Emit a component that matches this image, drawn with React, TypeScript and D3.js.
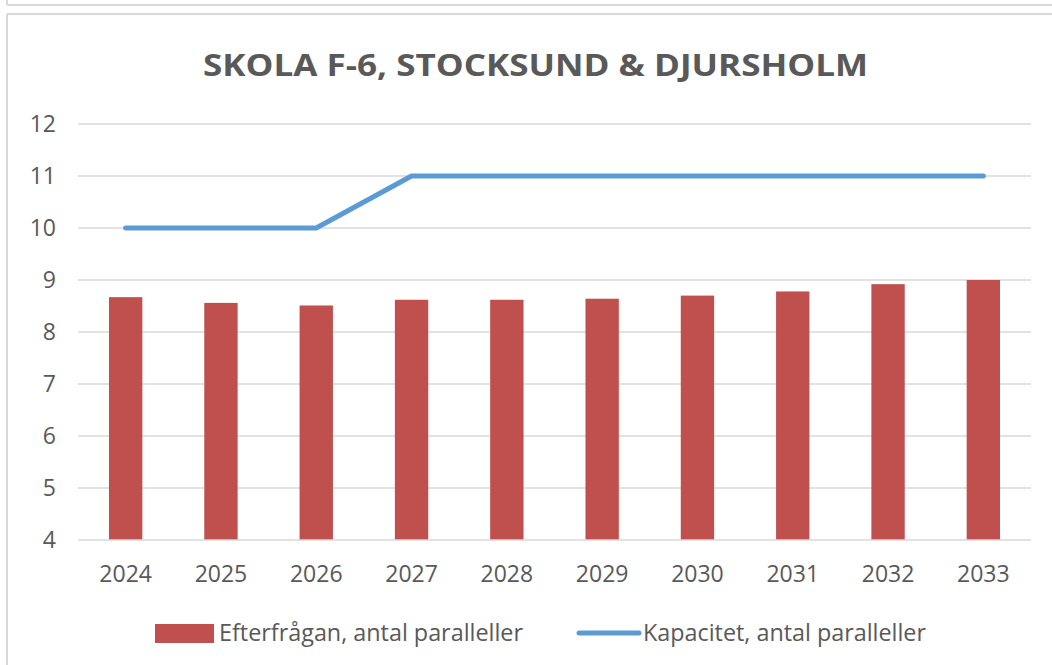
import React from "react";
import * as d3 from "d3";

const years = ["2024", "2025", "2026", "2027", "2028", "2029", "2030", "2031", "2032", "2033"];
const demand = [8.67, 8.56, 8.51, 8.62, 8.62, 8.64, 8.7, 8.78, 8.92, 9.0];
const capacity = [10, 10, 10, 11, 11, 11, 11, 11, 11, 11];
const yTicks = [4, 5, 6, 7, 8, 9, 10, 11, 12];
const title = "SKOLA F-6, STOCKSUND & DJURSHOLM";
const demandLabel = "Efterfrågan, antal paralleller";
const capacityLabel = "Kapacitet, antal paralleller";

const W = 1052;
const H = 665;
const left = 78;
const right = 1031;
const top = 124;
const bottom = 540;
const font = "'Open Sans', sans-serif";
const textColor = "#595959";
const gridColor = "#d9d9d9";
const barColor = "#c0504d";
const lineColor = "#5b9bd5";

export default function App() {
  const x = d3.scaleBand<string>().domain(years).range([left, right]).padding(0);
  const y = d3.scaleLinear().domain([4, 12]).range([bottom, top]);
  const bw = x.bandwidth() * 0.35;
  const cx = (d: string) => (x(d) as number) + x.bandwidth() / 2;
  const line = d3
    .line<number>()
    .x((_, i) => cx(years[i]))
    .y((d) => y(d));

  return (
    <div style={{ position: "absolute", left: 0, top: 0 }}>
      <svg width={W} height={H} style={{ display: "block", background: "#fff" }}>
        {/* previous panel border */}
        <line x1={7} x2={W} y1={5} y2={5} stroke={gridColor} strokeWidth={2} />
        <line x1={7} x2={7} y1={0} y2={5} stroke={gridColor} strokeWidth={2} />
        {/* chart frame */}
        <line x1={7} x2={W} y1={14} y2={14} stroke={gridColor} strokeWidth={2} />
        <line x1={7} x2={7} y1={14} y2={H} stroke={gridColor} strokeWidth={2} />

        <text
          x={203}
          y={76}
          fontFamily={font}
          fontWeight={700}
          fontSize={31}
          fill={textColor}
          textLength={665}
          lengthAdjust="spacingAndGlyphs"
        >
          {title}
        </text>

        {yTicks.map((t) => (
          <g key={t}>
            {t !== 4 && (
              <line x1={left} x2={right} y1={y(t)} y2={y(t)} stroke={gridColor} strokeWidth={1.5} />
            )}
            <text
              x={56}
              y={y(t)}
              dy="0.35em"
              textAnchor="end"
              fontFamily={font}
              fontSize={23}
              fill={textColor}
            >
              {t}
            </text>
          </g>
        ))}

        {years.map((yr, i) => (
          <rect
            key={yr}
            x={cx(yr) - bw / 2}
            y={y(demand[i])}
            width={bw}
            height={y(4) - y(demand[i])}
            fill={barColor}
          />
        ))}
        <line x1={left} x2={right} y1={bottom} y2={bottom} stroke={gridColor} strokeWidth={1.5} />

        <path
          d={line(capacity) || ""}
          fill="none"
          stroke={lineColor}
          strokeWidth={5}
          strokeLinecap="round"
          strokeLinejoin="round"
        />

        {years.map((yr) => (
          <text
            key={yr}
            x={cx(yr)}
            y={582}
            textAnchor="middle"
            fontFamily={font}
            fontSize={23}
            fill={textColor}
          >
            {yr}
          </text>
        ))}

        <rect x={155} y={624} width={59} height={19} fill={barColor} />
        <text
          x={219}
          y={641}
          fontFamily={font}
          fontSize={23}
          fill={textColor}
          textLength={304}
          lengthAdjust="spacingAndGlyphs"
        >
          {demandLabel}
        </text>
        <line x1={579} x2={639} y1={633} y2={633} stroke={lineColor} strokeWidth={5} strokeLinecap="round" />
        <text
          x={643}
          y={641}
          fontFamily={font}
          fontSize={23}
          fill={textColor}
          textLength={283}
          lengthAdjust="spacingAndGlyphs"
        >
          {capacityLabel}
        </text>
      </svg>
    </div>
  );
}
